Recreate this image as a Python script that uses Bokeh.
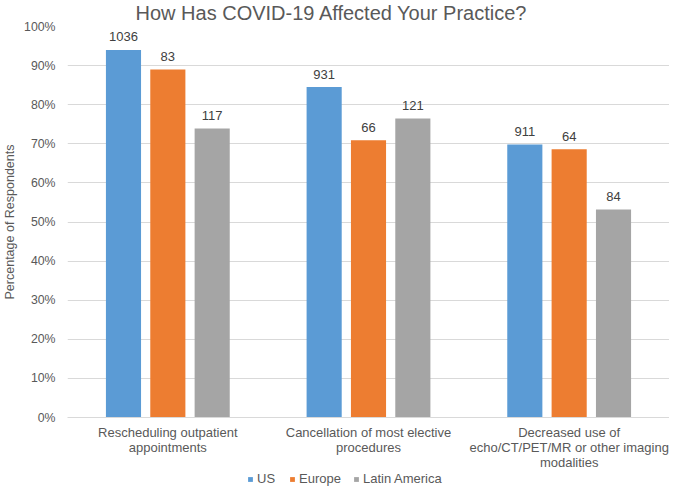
from bokeh.plotting import figure
from bokeh.layouts import column
from bokeh.models import (FactorRange, Range1d, ColumnDataSource, Legend, LegendItem,
                          Title, NumeralTickFormatter)
from bokeh.transform import dodge
from bokeh.core.properties import value
from bokeh.embed import file_html
from bokeh.resources import INLINE

categories = ["Rescheduling outpatient\nappointments",
              "Cancellation of most elective\nprocedures",
              "Decreased use of\necho/CT/PET/MR or other imaging\nmodalities"]
series = ["US", "Europe", "Latin America"]
us_pct = [0.940, 0.845, 0.698]
europe_pct = [0.890, 0.709, 0.686]
latam_pct = [0.739, 0.765, 0.532]
us_n = [1036, 931, 911]
europe_n = [83, 66, 64]
latam_n = [117, 121, 84]
y_ticks = [0.0, 0.1, 0.2, 0.3, 0.4, 0.5, 0.6, 0.7, 0.8, 0.9, 1.0]
title_text = "How Has COVID-19 Affected Your Practice?"
y_title = "Percentage of Respondents"

colors = ["#5B9BD5", "#ED7D31", "#A5A5A5"]
FONT = "Liberation Sans"
GRAY = "#595959"

src = ColumnDataSource(dict(
    cat=categories,
    us=us_pct, eu=europe_pct, la=latam_pct,
    us_t=[str(v) for v in us_n], eu_t=[str(v) for v in europe_n], la_t=[str(v) for v in latam_n],
))

p = figure(width=669, height=472, x_range=FactorRange(*categories, range_padding=0),
           y_range=Range1d(0, 1), output_backend="svg", toolbar_location=None,
           min_border_left=59, min_border_right=0, min_border_top=0, min_border_bottom=54)
p.title = Title(text=title_text, align="left", offset=68, standoff=2, vertical_align="top",
                text_font=FONT, text_font_size="20px", text_font_style="normal",
                text_color=GRAY)
p.outline_line_color = None
p.xgrid.visible = False
p.ygrid.grid_line_color = "#d9d9d9"
p.ygrid.grid_line_width = 1

p.yaxis.ticker = y_ticks
p.yaxis.formatter = NumeralTickFormatter(format="0%")
p.yaxis.axis_line_color = None
p.yaxis.major_tick_line_color = None
p.yaxis.minor_tick_line_color = None
p.yaxis.major_tick_out = 0
p.yaxis.major_label_standoff = 12
p.yaxis.major_label_text_font = FONT
p.yaxis.major_label_text_font_size = "12.3px"
p.yaxis.major_label_text_color = GRAY
p.yaxis.axis_label = y_title
p.yaxis.axis_label_text_font = FONT
p.yaxis.axis_label_text_font_size = "12.5px"
p.yaxis.axis_label_text_font_style = "normal"
p.yaxis.axis_label_text_color = GRAY
p.yaxis.axis_label_standoff = 4

p.xaxis.axis_line_color = "#d9d9d9"
p.xaxis.major_tick_line_color = None
p.xaxis.minor_tick_line_color = None
p.xaxis.major_tick_out = 0
p.xaxis.major_label_standoff = 7
p.xaxis.major_label_text_font = FONT
p.xaxis.major_label_text_font_size = "13px"
p.xaxis.major_label_text_line_height = 1.0
p.xaxis.major_label_text_color = GRAY

offsets = [-0.221, 0.0, 0.221]
cols = ["us", "eu", "la"]
for off, col, c in zip(offsets, cols, colors):
    p.vbar(x=dodge("cat", off, range=p.x_range), top=col, width=0.175, source=src,
           fill_color=c, line_color=None)
    p.text(x=dodge("cat", off, range=p.x_range), y=col, text=col + "_t", source=src,
           y_offset=-13, text_align="center", text_baseline="middle",
           text_font=value(FONT), text_font_size="13px", text_color="#404040")

# legend strip below the chart (its bars lie outside its visible y range)
lg = figure(width=669, height=14, x_range=p.x_range, y_range=Range1d(2, 3),
            output_backend="svg", toolbar_location=None, min_border=0,
            x_axis_location=None, y_axis_location=None)
lg.grid.visible = False
lg.outline_line_color = None
items = []
for s, col, c in zip(series, cols, colors):
    r = lg.vbar(x="cat", top=col, width=0.175, source=src, fill_color=c, line_color=None)
    items.append(LegendItem(label=s, renderers=[r]))
legend = Legend(items=items, orientation="horizontal", location=(180, 0),
                glyph_width=6, glyph_height=6, label_standoff=4, spacing=12,
                padding=0, margin=0, border_line_color=None, background_fill_alpha=0,
                label_text_font=FONT, label_text_font_size="13px", label_text_color=GRAY,
                label_height=14)
lg.add_layout(legend)

layout = column(p, lg, spacing=0)
open("out.html", "w").write(file_html(layout, INLINE))
